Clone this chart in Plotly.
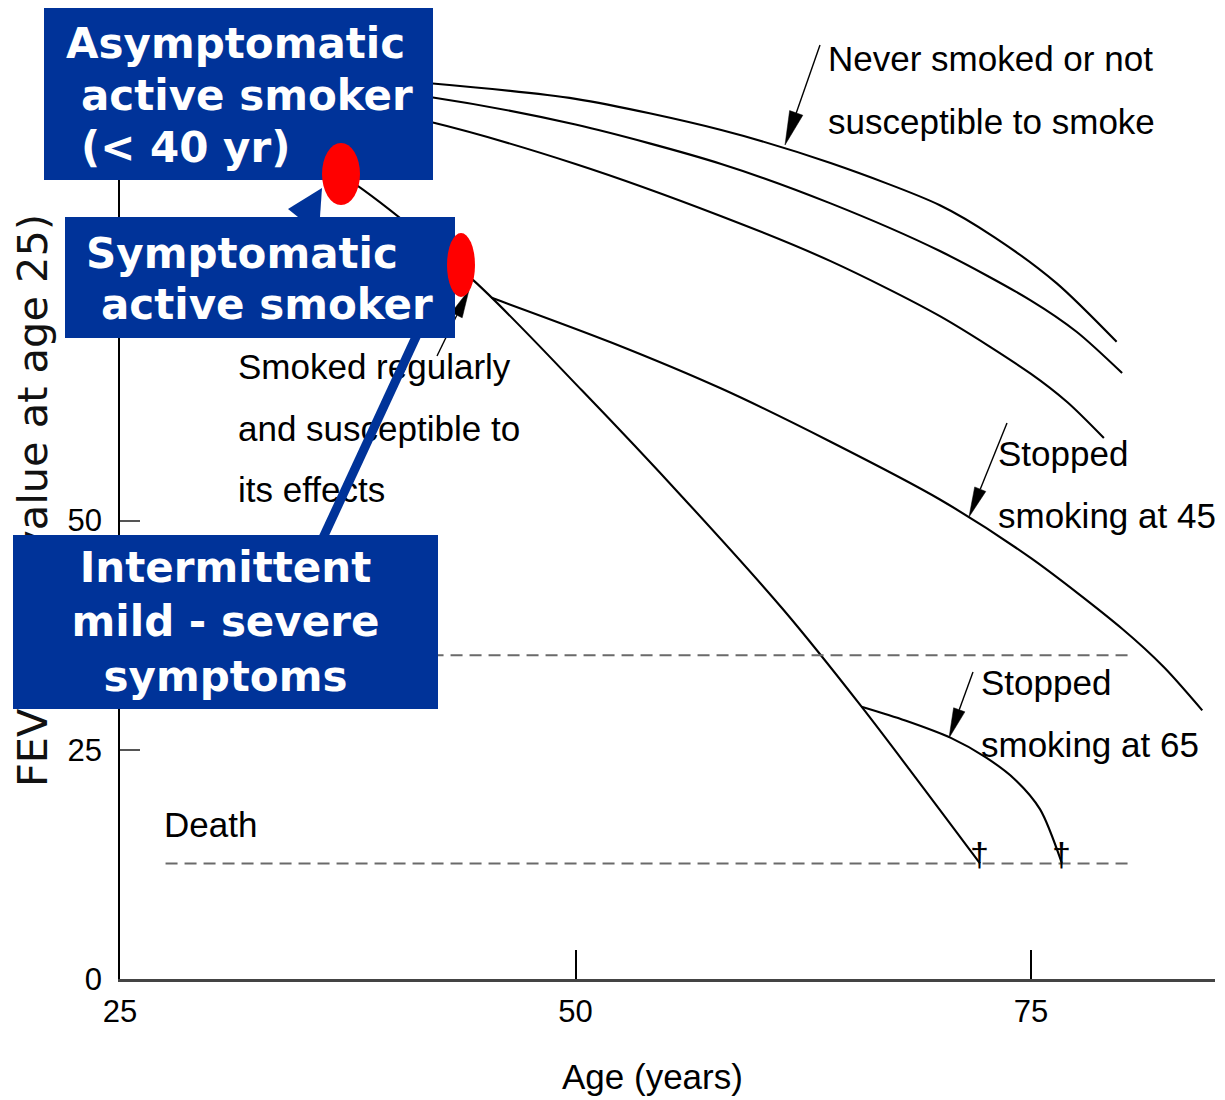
import math
import plotly.graph_objects as go

# ---------------- data (age in years, FEV1 as % of value at age 25) ----------------
never_age = [25, 42, 50, 58, 64, 70, 73, 76.4, 79.7]
never_fev = [100, 97.7, 96.0, 92.6, 89.0, 84.4, 80.9, 75.9, 69.5]

curve_b_age = [25, 42, 50, 58, 64, 70, 75, 77.5, 80.0]
curve_b_fev = [100, 96.2, 93.2, 88.9, 84.6, 79.4, 74.0, 70.6, 66.1]

curve_c_age = [25, 42, 50, 58, 64, 70, 75, 77, 79.0]
curve_c_fev = [100, 93.5, 88.9, 83.2, 78.3, 72.3, 66.0, 62.9, 59.0]

smoker_age = [25, 37.1, 44.4, 50.4, 55.9, 61.4, 65.7, 72.2]
smoker_fev = [100, 87.8, 76.2, 64.1, 52.5, 40.3, 29.7, 12.6]

stop45_age = [45.4, 52, 58, 64, 70, 75, 80, 82.3, 84.4]
stop45_fev = [74.3, 69.4, 64.4, 58.6, 52.3, 45.9, 38.2, 34.0, 29.3]

stop65_age = [65.7, 68.1, 70.6, 72.5, 74.1, 75.5, 76.7]
stop65_fev = [29.7, 28.2, 26.3, 24.2, 21.8, 18.5, 12.6]

disability_level = 35.3
death_level = 12.6
dashed_age = [27.5, 80.3]
death_ages = [72.2, 76.7]

x_tickvals = [25, 50, 75]
y_tickvals = [0, 25, 50]

# ---------------- layout geometry (page pixels; the page body adds an 8px offset) ----------------
OFF = 8
W, H = 1225 - OFF, 1100 - OFF
ML, MR, MT, MB = 120 - OFF, 10, 60 - OFF, 121
PW, PH = W - ML - MR, H - MT - MB
X_RANGE = [25, 25 + PW / 18.22]
Y_RANGE = [0, PH / 9.168]

SANS = "Liberation Sans, Arial, Helvetica, sans-serif"
BOLD = "DejaVu Sans, Verdana, sans-serif"
BLUE = "#003399"


def pxp(x):  # page pixel x -> paper
    return (x - OFF - ML) / PW


def pyp(y):  # page pixel y -> paper
    return (H - MB - (y - OFF)) / PH


def dxv(x):  # page pixel x -> data x
    return X_RANGE[0] + pxp(x) * (X_RANGE[1] - X_RANGE[0])


def dyv(y):  # page pixel y -> data y
    return Y_RANGE[0] + pyp(y) * (Y_RANGE[1] - Y_RANGE[0])


fig = go.Figure()

line_style = dict(color="black", width=2.1, shape="spline", smoothing=0.8)
for name, xs, ys in [
    ("Never smoked or not susceptible to smoke", never_age, never_fev),
    ("Curve B", curve_b_age, curve_b_fev),
    ("Curve C", curve_c_age, curve_c_fev),
    ("Smoked regularly and susceptible", smoker_age, smoker_fev),
    ("Stopped smoking at 45", stop45_age, stop45_fev),
    ("Stopped smoking at 65", stop65_age, stop65_fev),
]:
    fig.add_trace(go.Scatter(x=xs, y=ys, mode="lines", name=name, line=line_style,
                             hoverinfo="skip", cliponaxis=False))

for lvl in [disability_level, death_level]:
    fig.add_trace(go.Scatter(x=dashed_age, y=[lvl, lvl], mode="lines",
                             line=dict(color="#6a6a6a", width=2, dash="12px,7px"),
                             hoverinfo="skip"))

# black chart labels as a text trace (so the blue pointer line can pass over them)
labels = [
    ("Never smoked or not", 830, 62),
    ("susceptible to smoke", 830, 125),
    ("Smoked regularly", 240, 370),
    ("and susceptible to", 240, 432),
    ("its effects", 240, 493),
    ("Stopped", 1000, 457),
    ("smoking at 45", 1000, 519),
    ("Stopped", 983, 686),
    ("smoking at 65", 983, 748),
    ("Death", 166, 828),
]
fig.add_trace(go.Scatter(
    x=[dxv(p[1] - 2) for p in labels], y=[dyv(p[2]) for p in labels],
    text=[p[0] for p in labels], mode="text", textposition="middle right",
    textfont=dict(family=SANS, size=35, color="black"),
    cliponaxis=False, hoverinfo="skip"))

shapes = []


def arrow(tail, tip, hl=30, hw=6, color="black", width=1.4):
    vx, vy = tip[0] - tail[0], tip[1] - tail[1]
    n = math.hypot(vx, vy)
    ux, uy = vx / n, vy / n
    bx, by = tip[0] - ux * hl, tip[1] - uy * hl
    qx, qy = -uy, ux
    shapes.append(dict(type="line", xref="paper", yref="paper", layer="above",
                       x0=pxp(tail[0]), y0=pyp(tail[1]), x1=pxp(bx), y1=pyp(by),
                       line=dict(color=color, width=width)))
    pts = [tip, (bx + qx * hw, by + qy * hw), (bx - qx * hw, by - qy * hw)]
    path = "M " + " L ".join(f"{pxp(a):.5f},{pyp(b):.5f}" for a, b in pts) + " Z"
    shapes.append(dict(type="path", xref="paper", yref="paper", layer="above", path=path,
                       fillcolor=color, line=dict(color=color, width=0.5)))


arrow((820, 45), (785, 145), hl=34, hw=7)
arrow((1007, 423), (969, 517), hl=30, hw=6)
arrow((973, 672), (949, 738), hl=30, hw=6)
arrow((437, 356), (469, 290), hl=28, hw=6)

# blue pointer from the lower box to the second red dot
shapes.append(dict(type="line", xref="paper", yref="paper", layer="above",
                   x0=pxp(322), y0=pyp(540), x1=pxp(440), y1=pyp(285),
                   line=dict(color=BLUE, width=9)))


def rect(x0, y0, x1, y1):
    shapes.append(dict(type="rect", xref="paper", yref="paper", layer="above",
                       x0=pxp(x0), x1=pxp(x1), y0=pyp(y1), y1=pyp(y0),
                       fillcolor=BLUE, line=dict(width=0)))


rect(44, 8, 433, 180)
rect(65, 217, 455, 338)

wedge = [(298, 217), (288, 209), (322, 188), (320, 217)]
shapes.append(dict(type="path", xref="paper", yref="paper", layer="above",
                   path="M " + " L ".join(f"{pxp(a):.5f},{pyp(b):.5f}" for a, b in wedge) + " Z",
                   fillcolor=BLUE, line=dict(width=0)))


def ellipse(cx, cy, rx, ry):
    shapes.append(dict(type="circle", xref="paper", yref="paper", layer="above",
                       x0=pxp(cx - rx), x1=pxp(cx + rx), y0=pyp(cy + ry), y1=pyp(cy - ry),
                       fillcolor="#ff0000", line=dict(width=0)))


ellipse(341, 174, 19, 31)
ellipse(461, 265, 14, 32)

annotations = []
# y-axis title (partly covered by the lower box, which is drawn after it)
annotations.append(dict(xref="paper", yref="paper", x=pxp(35), y=pyp(501),
                        text="FEV<sub>1</sub> (% of value at age 25)", textangle=-90,
                        showarrow=False, xanchor="center", yanchor="middle",
                        font=dict(family="DejaVu Sans, Verdana, sans-serif", size=41.5, color="#111")))
# lower blue box with its text
annotations.append(dict(xref="paper", yref="paper", x=pxp(225.5), y=pyp(622),
                        xanchor="center", yanchor="middle", showarrow=False,
                        width=425, height=174, bgcolor=BLUE, borderpad=0, borderwidth=0,
                        align="center",
                        text="Intermittent<br>mild - severe<br>symptoms",
                        font=dict(family=BOLD, size=42, color="white", weight="bold")))
for txt, x, y in [
    ("Asymptomatic", 65, 44),
    ("active smoker", 80, 95),
    ("(< 40 yr)", 80, 147),
    ("Symptomatic", 85, 253),
    ("active smoker", 100, 305),
]:
    annotations.append(dict(xref="paper", yref="paper", x=pxp(x - 1), y=pyp(y),
                            xanchor="left", yanchor="middle", showarrow=False, text=txt,
                            font=dict(family=BOLD, size=42, color="white", weight="bold")))
# death markers
for a in death_ages:
    annotations.append(dict(x=a, y=death_level, xref="x", yref="y", text="†",
                            showarrow=False, yshift=9,
                            font=dict(family=SANS, size=34, color="black")))
# x-axis title
annotations.append(dict(xref="paper", yref="paper", x=pxp(652), y=pyp(1076),
                        text="Age (years)", showarrow=False, xanchor="center", yanchor="middle",
                        font=dict(family=SANS, size=35, color="black")))

fig.update_layout(
    width=W, height=H, autosize=False,
    margin=dict(l=ML, r=MR, t=MT, b=MB, pad=0),
    paper_bgcolor="white", plot_bgcolor="white",
    showlegend=False,
    shapes=shapes, annotations=annotations,
    xaxis=dict(range=X_RANGE, tickvals=x_tickvals, ticks="inside", ticklen=29,
               tickwidth=1.5, tickcolor="black", showline=True, linecolor="#444",
               linewidth=2.5, showgrid=False, zeroline=False, ticklabelstandoff=3,
               tickfont=dict(family=SANS, size=31, color="black")),
    yaxis=dict(range=Y_RANGE, tickvals=y_tickvals, ticks="inside", ticklen=20,
               tickwidth=2, tickcolor="#555", showline=True, linecolor="black",
               linewidth=1.5, showgrid=False, zeroline=False, ticklabelstandoff=10,
               tickfont=dict(family=SANS, size=31, color="black")),
)

fig.write_html("out.html")
